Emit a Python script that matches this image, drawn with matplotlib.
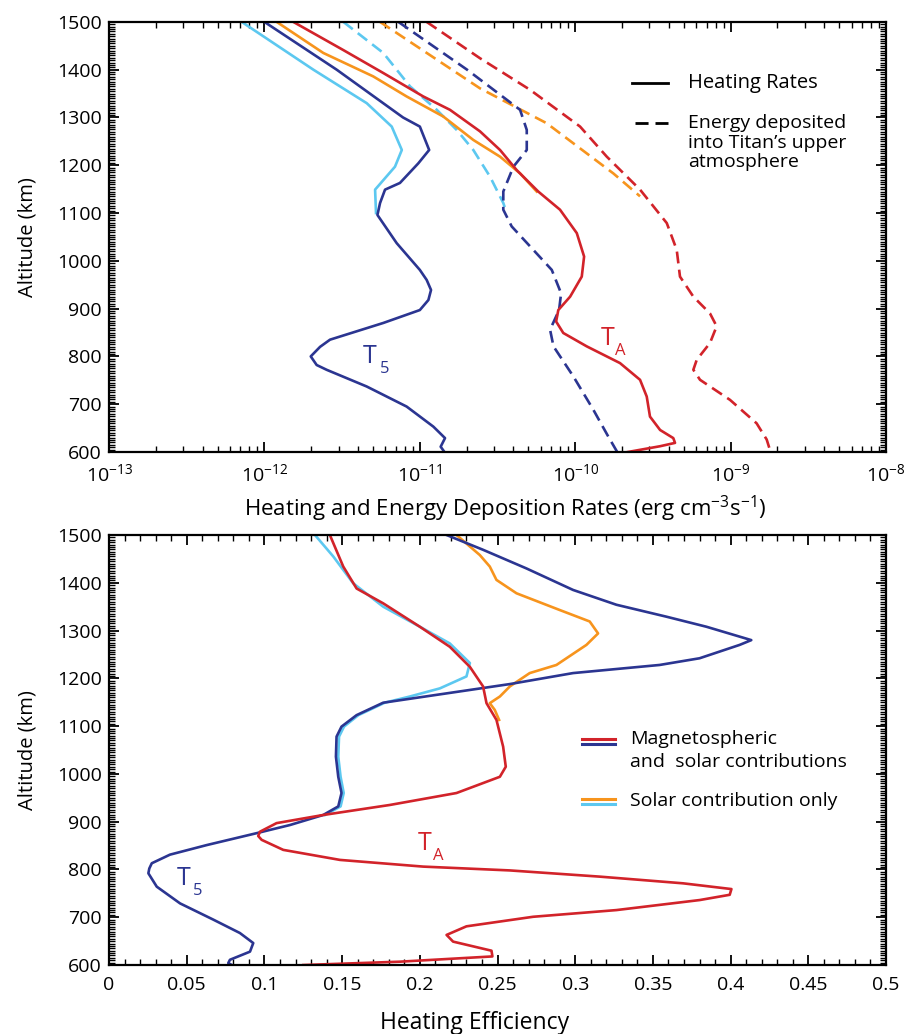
import numpy as np
import matplotlib
matplotlib.use("Agg")
import matplotlib.pyplot as plt
from matplotlib.ticker import MultipleLocator, LogLocator, NullFormatter

plt.rcParams['font.family'] = ['Open Sans', 'DejaVu Sans']
plt.rcParams['mathtext.fontset'] = 'custom'
plt.rcParams['mathtext.rm'] = 'Open Sans'
plt.rcParams['mathtext.it'] = 'Open Sans'
plt.rcParams['axes.unicode_minus'] = False

DBLUE = '#2b3591'
LBLUE = '#5cc8f0'
RED = '#d2232a'
ORANGE = '#f7941d'

# ---- top panel: heating / energy deposition rates (log10 of erg cm^-3 s^-1) ----
t5_heat_alt = [1500, 1400, 1300, 1281, 1232, 1204, 1163, 1149, 1121, 1096, 1037, 981, 960, 939, 918, 897, 870, 835, 820, 800, 782, 772, 737, 695, 653, 629, 611, 601]
t5_heat_log = [-12.0, -11.535, -11.108, -11.0, -10.94, -11.01, -11.128, -11.224, -11.256, -11.273, -11.149, -11.0, -10.956, -10.928, -10.945, -11.0, -11.235, -11.578, -11.642, -11.702, -11.664, -11.6, -11.342, -11.085, -10.913, -10.838, -10.866, -10.844]

t5_sol_heat_alt = [1500, 1400, 1330, 1281, 1232, 1197, 1149, 1100]
t5_sol_heat_log = [-12.146, -11.685, -11.342, -11.181, -11.116, -11.16, -11.288, -11.282]

ta_heat_alt = [1500, 1441, 1393, 1344, 1316, 1271, 1232, 1190, 1145, 1107, 1058, 1009, 967, 925, 897, 873, 849, 821, 786, 751, 716, 674, 646, 629, 619, 612, 600]
ta_heat_log = [-11.814, -11.492, -11.235, -10.978, -10.806, -10.613, -10.484, -10.377, -10.238, -10.098, -9.99, -9.943, -9.958, -10.033, -10.109, -10.123, -10.077, -9.926, -9.712, -9.583, -9.54, -9.519, -9.454, -9.369, -9.358, -9.454, -9.66]

ta_sol_heat_alt = [1500, 1435, 1386, 1344, 1302, 1253, 1218, 1183, 1145]
ta_sol_heat_log = [-11.921, -11.621, -11.3, -11.085, -10.849, -10.656, -10.484, -10.355, -10.248]

t5_dep_alt = [1500, 1400, 1316, 1274, 1232, 1197, 1145, 1107, 1072, 1023, 981, 932, 897, 856, 821, 758, 688, 632, 600]
t5_dep_log = [-11.138, -10.696, -10.355, -10.312, -10.312, -10.398, -10.463, -10.463, -10.409, -10.27, -10.151, -10.091, -10.104, -10.162, -10.14, -10.012, -9.883, -9.787, -9.73]

t5_sol_dep_alt = [1500, 1435, 1365, 1316, 1274, 1232, 1176, 1121, 1100]
t5_sol_dep_log = [-11.492, -11.235, -11.063, -10.891, -10.763, -10.656, -10.548, -10.463, -10.441]

ta_dep_alt = [1500, 1424, 1358, 1281, 1218, 1149, 1079, 1023, 967, 925, 890, 863, 828, 793, 772, 751, 709, 660, 626, 600]
ta_dep_log = [-10.956, -10.613, -10.291, -9.969, -9.797, -9.583, -9.411, -9.347, -9.326, -9.24, -9.133, -9.09, -9.133, -9.218, -9.24, -9.197, -9.004, -8.833, -8.768, -8.743]

ta_sol_dep_alt = [1500, 1361, 1288, 1183, 1135]
ta_sol_dep_log = [-11.256, -10.613, -10.184, -9.755, -9.583]

# ---- bottom panel: heating efficiency ----
t5_eff_alt = [1500, 1469, 1430, 1385, 1354, 1329, 1308, 1280, 1270, 1242, 1228, 1211, 1188, 1149, 1123, 1099, 1078, 1036, 994, 960, 932, 914, 893, 876, 851, 831, 813, 802, 792, 764, 729, 695, 667, 646, 628, 611, 604, 601]
t5_eff = [0.2172, 0.2407, 0.2686, 0.2986, 0.3265, 0.3587, 0.3844, 0.4133, 0.4058, 0.38, 0.3543, 0.2986, 0.2579, 0.1764, 0.1593, 0.1496, 0.1464, 0.146, 0.1475, 0.1496, 0.1475, 0.1378, 0.1164, 0.095, 0.0628, 0.0392, 0.0275, 0.0259, 0.0253, 0.0307, 0.0457, 0.0671, 0.0842, 0.0928, 0.0907, 0.0778, 0.0767, 0.0785]

t5_sol_eff_alt = [1500, 1455, 1399, 1350, 1308, 1273, 1232, 1204, 1179, 1162, 1149, 1123, 1099, 1078, 1036, 994, 960, 932, 914]
t5_sol_eff = [0.1325, 0.1443, 0.1571, 0.1764, 0.2, 0.2193, 0.2322, 0.23, 0.2129, 0.1936, 0.1774, 0.1605, 0.1512, 0.148, 0.1475, 0.149, 0.151, 0.149, 0.139]

ta_eff_alt = [1500, 1434, 1388, 1357, 1308, 1266, 1224, 1183, 1148, 1113, 1057, 1015, 994, 960, 935, 914, 897, 879, 870, 862, 841, 820, 806, 798, 785, 771, 759, 747, 736, 715, 701, 681, 663, 649, 630, 618, 607, 600]
ta_eff = [0.1421, 0.1507, 0.1593, 0.1764, 0.2, 0.2193, 0.2322, 0.2407, 0.2429, 0.2493, 0.2536, 0.2553, 0.2515, 0.2236, 0.1807, 0.1378, 0.1078, 0.0971, 0.096, 0.0982, 0.1121, 0.1486, 0.2021, 0.2579, 0.3158, 0.3694, 0.4005, 0.3994, 0.3801, 0.3265, 0.2729, 0.23, 0.2172, 0.2214, 0.2461, 0.2467, 0.1871, 0.125]

ta_sol_eff_alt = [1500, 1458, 1434, 1406, 1378, 1343, 1319, 1294, 1270, 1228, 1211, 1183, 1162, 1148, 1134, 1113]
ta_sol_eff = [0.2236, 0.2386, 0.245, 0.2493, 0.2622, 0.29, 0.3093, 0.3147, 0.3072, 0.2879, 0.2707, 0.2579, 0.2515, 0.245, 0.2482, 0.251]

log_ticks = [1e-13, 1e-12, 1e-11, 1e-10, 1e-9, 1e-8]
eff_ticks = ['0', '0.05', '0.1', '0.15', '0.2', '0.25', '0.3', '0.35', '0.4', '0.45', '0.5']

fig = plt.figure(figsize=(9.11, 10.34), dpi=100)
ax1 = fig.add_axes([0.1197, 0.5629, 0.8529, 0.4159])
ax2 = fig.add_axes([0.1197, 0.0667, 0.8529, 0.4159])

lw = 1.9
dash = (0, (4.5, 2.4))

# top panel
ax1.plot(10 ** np.array(t5_sol_dep_log), t5_sol_dep_alt, color=LBLUE, lw=lw, ls=dash)
ax1.plot(10 ** np.array(ta_sol_dep_log), ta_sol_dep_alt, color=ORANGE, lw=lw, ls=dash)
ax1.plot(10 ** np.array(t5_dep_log), t5_dep_alt, color=DBLUE, lw=lw, ls=dash)
ax1.plot(10 ** np.array(ta_dep_log), ta_dep_alt, color=RED, lw=lw, ls=dash)
ax1.plot(10 ** np.array(t5_sol_heat_log), t5_sol_heat_alt, color=LBLUE, lw=lw)
ax1.plot(10 ** np.array(ta_sol_heat_log), ta_sol_heat_alt, color=ORANGE, lw=lw)
ax1.plot(10 ** np.array(t5_heat_log), t5_heat_alt, color=DBLUE, lw=lw)
ax1.plot(10 ** np.array(ta_heat_log), ta_heat_alt, color=RED, lw=lw)

ax1.set_xscale('log')
ax1.set_xlim(1e-13, 1e-8)
ax1.set_ylim(600, 1500)
ax1.set_xticks(log_ticks)
ax1.xaxis.set_minor_locator(LogLocator(base=10, subs=np.arange(2, 10), numticks=10))
ax1.xaxis.set_minor_formatter(NullFormatter())
ax1.set_xlabel('Heating and Energy Deposition Rates (erg cm$^{-3}$s$^{-1}$)', fontsize=16, labelpad=6)
ax1.xaxis.label.set_x(0.51)

ax1.text(4.3e-12, 786, 'T', color=DBLUE, fontsize=18, va='baseline')
ax1.text(5.5e-12, 765, '5', color=DBLUE, fontsize=12, va='baseline')
ax1.text(1.45e-10, 824, 'T', color=RED, fontsize=18, va='baseline')
ax1.text(1.80e-10, 803, 'A', color=RED, fontsize=12, va='baseline')

# top key (line styles)
ax1.plot([0.673, 0.7195], [0.858, 0.858], color='black', lw=2, transform=ax1.transAxes)
ax1.plot([0.677, 0.7195], [0.765, 0.765], color='black', lw=2, ls=(0, (4.7, 2.5)), transform=ax1.transAxes)
ax1.text(0.745, 0.858, 'Heating Rates', fontsize=14.5, va='center', transform=ax1.transAxes)
key2 = ['Energy deposited', 'into Titan\u2019s upper', 'atmosphere']
for i, line in enumerate(key2):
    ax1.text(0.745, 0.765 - i * 0.0455, line, fontsize=14, va='center', transform=ax1.transAxes)

# bottom panel
ax2.plot(t5_sol_eff, t5_sol_eff_alt, color=LBLUE, lw=lw)
ax2.plot(ta_sol_eff, ta_sol_eff_alt, color=ORANGE, lw=lw)
ax2.plot(t5_eff, t5_eff_alt, color=DBLUE, lw=lw)
ax2.plot(ta_eff, ta_eff_alt, color=RED, lw=lw)
ax2.set_xlim(0, 0.5)
ax2.set_ylim(600, 1500)
ax2.xaxis.set_minor_locator(MultipleLocator(0.01))
ax2.set_xticks(np.arange(0, 0.501, 0.05))
ax2.set_xticklabels(eff_ticks)
ax2.set_xlabel('Heating Efficiency', fontsize=16.5, labelpad=12)
ax2.xaxis.label.set_x(0.47)

ax2.text(0.0437, 767, 'T', color=DBLUE, fontsize=18, va='baseline')
ax2.text(0.054, 747, '5', color=DBLUE, fontsize=12, va='baseline')
ax2.text(0.1987, 841, 'T', color=RED, fontsize=18, va='baseline')
ax2.text(0.2084, 820, 'A', color=RED, fontsize=12, va='baseline')

# bottom key: doubled coloured lines
kx = [0.609, 0.651]
ax2.plot(kx, [0.5256, 0.5256], color=RED, lw=2.2, transform=ax2.transAxes)
ax2.plot(kx, [0.5133, 0.5133], color=DBLUE, lw=2.2, transform=ax2.transAxes)
ax2.plot(kx, [0.386, 0.386], color=ORANGE, lw=2.2, transform=ax2.transAxes)
ax2.plot(kx, [0.3744, 0.3744], color=LBLUE, lw=2.2, transform=ax2.transAxes)
ax2.text(0.671, 0.5256, 'Magnetospheric', fontsize=14, va='center', transform=ax2.transAxes)
ax2.text(0.671, 0.4728, 'and  solar contributions', fontsize=14, va='center', transform=ax2.transAxes)
ax2.text(0.671, 0.3814, 'Solar contribution only', fontsize=14, va='center', transform=ax2.transAxes)

for ax in (ax1, ax2):
    ax.yaxis.set_major_locator(MultipleLocator(100))
    ax.yaxis.set_minor_locator(MultipleLocator(5))
    ax.set_ylabel('Altitude (km)', fontsize=14.5, labelpad=14)
    ax.tick_params(which='both', direction='in', top=True, right=True, labelsize=14)
    ax.tick_params(which='major', length=7, width=1.3)
    ax.tick_params(which='minor', length=4, width=1.0)
    ax.tick_params(axis='x', pad=8)
    ax.tick_params(axis='y', pad=5)
    for s in ax.spines.values():
        s.set_linewidth(1.6)

fig.savefig('out.png', dpi=100)
